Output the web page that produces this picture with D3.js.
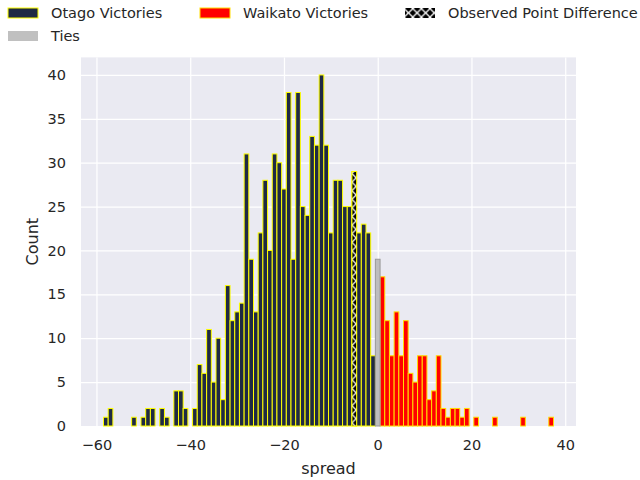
<!DOCTYPE html>
<html>
<head>
<meta charset="utf-8">
<script src="https://cdn.jsdelivr.net/npm/d3@7"></script>
<style>
  body { margin: 0; background: #fff; }
  text { font-family: "DejaVu Sans", sans-serif; fill: #262626; }
</style>
</head>
<body>
<div id="chart"></div>
<script>
// Histogram data (spread -> count)
var otagoSpread = [-58, -57, -52, -50, -49, -48, -46, -45, -43, -42, -41, -39, -38, -37, -36, -35, -34, -33, -32, -31,
  -30, -29, -28, -27, -26, -25, -24, -23, -22, -21, -20, -19, -18, -17, -16, -15, -14, -13, -12, -11,
  -10, -9, -8, -7, -6, -5, -4, -3, -2, -1];
var otagoCount = [1, 2, 1, 1, 2, 2, 2, 1, 4, 4, 2, 2, 7, 6, 11, 5, 10, 3, 16, 12,
  13, 14, 31, 19, 13, 22, 28, 20, 31, 30, 27, 38, 19, 38, 25, 24, 33, 32, 40, 32,
  22, 28, 28, 25, 25, 29, 22, 23, 22, 8];
var waikatoSpread = [1, 2, 3, 4, 5, 6, 7, 8, 9, 10, 11, 12, 13, 14, 15, 16, 17, 18, 19, 21, 25, 31, 37];
var waikatoCount = [17, 12, 8, 13, 8, 12, 6, 5, 8, 8, 3, 4, 8, 2, 1, 2, 2, 1, 2, 1, 1, 1, 1];
var tieSpread = [0];
var tieCount = [19];
var observedSpread = [-5];
var observedCount = [29];

var xTicks = [-60, -40, -20, 0, 20, 40];
var yTicks = [0, 5, 10, 15, 20, 25, 30, 35, 40];
var legendLabels = ["Otago Victories", "Waikato Victories", "Observed Point Difference", "Ties"];

// SVG and plot area
var svgWidth = 640;
var svgHeight = 480;
var margin = { top: 57.4, right: 64, bottom: 54, left: 81 };
var chartWidth = svgWidth - margin.left - margin.right;
var chartHeight = svgHeight - margin.top - margin.bottom;

var svg = d3.select("#chart")
  .append("svg")
  .attr("width", svgWidth)
  .attr("height", svgHeight);

// hatch pattern for the observed bar
var defs = svg.append("defs");
var hatch = defs.append("pattern")
  .attr("id", "hatch")
  .attr("patternUnits", "userSpaceOnUse")
  .attr("width", 8.6)
  .attr("height", 8.6);
hatch.append("rect")
  .attr("width", 8.6)
  .attr("height", 8.6)
  .attr("fill", "#000");
hatch.append("path")
  .attr("d", "M-1,-1L9.6,9.6M-1,9.6L9.6,-1")
  .attr("stroke", "#fff")
  .attr("stroke-width", 1.3);

var chartGroup = svg.append("g")
  .attr("transform", `translate(${margin.left}, ${margin.top})`);

// scales: integer bins from -58.5 to 37.5 plus 5% padding
var xScale = d3.scaleLinear()
  .domain([-63.3, 42.3])
  .range([0, chartWidth]);

var yScale = d3.scaleLinear()
  .domain([0, 42])
  .range([chartHeight, 0]);

// background + grid
chartGroup.append("rect")
  .attr("width", chartWidth)
  .attr("height", chartHeight)
  .attr("fill", "#eaeaf2");

var bottomAxis = d3.axisBottom(xScale)
  .tickValues(xTicks)
  .tickSize(-chartHeight)
  .tickPadding(14)
  .tickFormat(d => d3.format("")(d).replace("-", "\u2212"));

var leftAxis = d3.axisLeft(yScale)
  .tickValues(yTicks)
  .tickSize(-chartWidth)
  .tickPadding(15);

var xAxis = chartGroup.append("g")
  .attr("transform", `translate(0, ${chartHeight})`)
  .call(bottomAxis);

var yAxis = chartGroup.append("g")
  .call(leftAxis);

[xAxis, yAxis].forEach(function(ax) {
  ax.select(".domain").remove();
  ax.selectAll("line")
    .attr("stroke", "#fff")
    .attr("stroke-width", 1.25);
  ax.selectAll("text")
    .attr("fill", "#262626")
    .style("font-size", "14.5px");
});

// draw a set of bars
function drawBars(spread, count, fill, stroke, width) {
  var rows = spread.map((s, i) => ({ s: s, c: count[i] }));
  chartGroup.append("g")
    .selectAll("rect")
    .data(rows)
    .enter()
    .append("rect")
    .attr("x", d => xScale(d.s - 0.5))
    .attr("width", d => xScale(d.s + 0.5) - xScale(d.s - 0.5))
    .attr("y", d => yScale(d.c))
    .attr("height", d => yScale(0) - yScale(d.c))
    .attr("fill", fill)
    .attr("stroke", stroke)
    .attr("stroke-width", width);
}

drawBars(otagoSpread, otagoCount, "#1f2a44", "#ffff00", 1);
drawBars(waikatoSpread, waikatoCount, "#ff0000", "#ffdd00", 1);
drawBars(tieSpread, tieCount, "#bdbdbf", "#999999", 1);
drawBars(observedSpread, observedCount, "url(#hatch)", "#ffff00", 1);

// axis labels
chartGroup.append("text")
  .attr("x", chartWidth / 2)
  .attr("y", chartHeight + 48)
  .attr("text-anchor", "middle")
  .style("font-size", "16px")
  .text("spread");

chartGroup.append("text")
  .attr("transform", "rotate(-90)")
  .attr("x", 0 - chartHeight / 2)
  .attr("y", -43)
  .attr("text-anchor", "middle")
  .style("font-size", "16px")
  .text("Count");

// legend across the top
var legendItems = [
  { label: legendLabels[0], x: 8, y: 13, fill: "#1f2a44", stroke: "#ffff00" },
  { label: legendLabels[1], x: 200, y: 13, fill: "#ff0000", stroke: "#ffdd00" },
  { label: legendLabels[2], x: 405, y: 13, fill: "url(#hatch)", stroke: "none" },
  { label: legendLabels[3], x: 8, y: 36, fill: "#c0c0c0", stroke: "none" }
];

var legend = svg.append("g");
legendItems.forEach(function(item) {
  legend.append("rect")
    .attr("x", item.x)
    .attr("y", item.y - 5)
    .attr("width", 30)
    .attr("height", 10)
    .attr("fill", item.fill)
    .attr("stroke", item.stroke)
    .attr("stroke-width", 1);
  legend.append("text")
    .attr("x", item.x + 43)
    .attr("y", item.y)
    .attr("dy", "0.35em")
    .style("font-size", "14.5px")
    .text(item.label);
});
</script>
</body>
</html>
